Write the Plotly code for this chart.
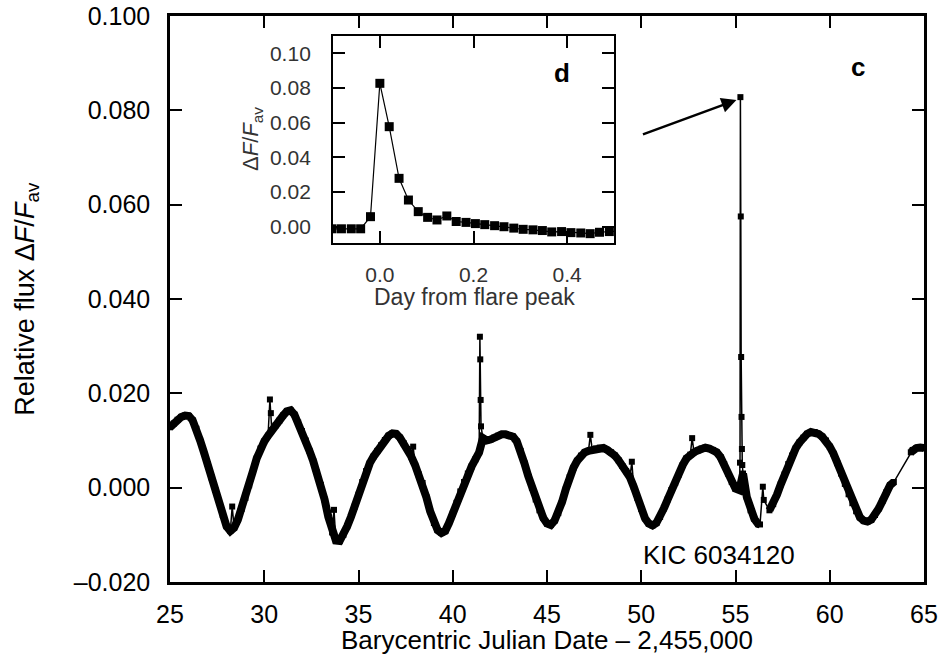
import plotly.graph_objects as go

# ---------------- data ----------------
lc_time = [
    25.0, 25.2, 25.4, 25.6, 25.8, 26.0, 26.2, 26.4, 26.6, 26.8,
    27.0, 27.2, 27.4, 27.6, 27.8, 28.0, 28.2, 28.4, 28.6, 28.8,
    29.0, 29.2, 29.4, 29.6, 29.8, 30.0, 30.2, 30.4, 30.6, 30.8,
    31.0, 31.2, 31.4, 31.6, 31.8, 32.0, 32.2, 32.4, 32.6, 32.8,
    33.0, 33.2, 33.4, 33.6, 33.8, 34.0, 34.2, 34.4, 34.6, 34.8,
    35.0, 35.2, 35.4, 35.6, 35.8, 36.0, 36.2, 36.4, 36.6, 36.8,
    37.0, 37.2, 37.4, 37.6, 37.8, 38.0, 38.2, 38.4, 38.6, 38.8,
    39.0, 39.2, 39.4, 39.6, 39.8, 40.0, 40.2, 40.4, 40.6, 40.8,
    41.0, 41.2, 41.4, 41.6, 41.8, 42.0, 42.2, 42.4, 42.6, 42.8,
    43.0, 43.2, 43.4, 43.6, 43.8, 44.0, 44.2, 44.4, 44.6, 44.8,
    45.0, 45.2, 45.4, 45.6, 45.8, 46.0, 46.2, 46.4, 46.6, 46.8,
    47.0, 47.2, 47.4, 47.6, 47.8, 48.0, 48.2, 48.4, 48.6, 48.8,
    49.0, 49.2, 49.4, 49.6, 49.8, 50.0, 50.2, 50.4, 50.6, 50.8,
    51.0, 51.2, 51.4, 51.6, 51.8, 52.0, 52.2, 52.4, 52.6, 52.8,
    53.0, 53.2, 53.4, 53.6, 53.8, 54.0, 54.2, 54.4, 54.6, 54.8,
    55.0, 55.2, 55.4, 55.6, 55.8, 56.0, 56.2, 56.3,
    56.8, 57.0, 57.2, 57.4, 57.6, 57.8, 58.0, 58.2, 58.4, 58.6,
    58.8, 59.0, 59.2, 59.4, 59.6, 59.8, 60.0, 60.2, 60.4, 60.6,
    60.8, 61.0, 61.2, 61.4, 61.6, 61.8, 62.0, 62.2, 62.4, 62.6,
    62.8, 63.0, 63.2, 63.4,
    64.3, 64.4, 64.6, 64.8, 65.0,
]
lc_flux = [
    0.0128, 0.0136, 0.0144, 0.0150, 0.0153, 0.0152, 0.0143, 0.0125, 0.0100, 0.0075,
    0.0050, 0.0022, -0.0005, -0.0030, -0.0058, -0.0082, -0.0092, -0.0085, -0.0068, -0.0045,
    -0.0022, 0.0005, 0.0035, 0.0062, 0.0083, 0.0098, 0.0110, 0.0122, 0.0132, 0.0142,
    0.0153, 0.0162, 0.0164, 0.0155, 0.0138, 0.0120, 0.0100, 0.0078, 0.0056, 0.0032,
    0.0006, -0.0025, -0.0062, -0.0095, -0.0112, -0.0113, -0.0100, -0.0082, -0.0062, -0.0040,
    -0.0015, 0.0012, 0.0035, 0.0052, 0.0066, 0.0078, 0.0090, 0.0101, 0.0110, 0.0115,
    0.0114, 0.0106, 0.0094, 0.0082, 0.0066, 0.0048, 0.0028, 0.0010, -0.0020, -0.0050,
    -0.0075, -0.0090, -0.0096, -0.0092, -0.0075, -0.0055, -0.0032, -0.0008, 0.0012, 0.0030,
    0.0045, 0.0060, 0.0075, 0.0105, 0.0100, 0.0102, 0.0106, 0.0110, 0.0113, 0.0113,
    0.0111, 0.0108, 0.0098, 0.0078, 0.0052, 0.0025, 0.0000, -0.0025, -0.0048, -0.0064,
    -0.0076, -0.0079, -0.0070, -0.0054, -0.0030, -0.0003, 0.0022, 0.0042, 0.0057, 0.0068,
    0.0075, 0.0078, 0.0080, 0.0083, 0.0085, 0.0084, 0.0080, 0.0075, 0.0068, 0.0058,
    0.0046, 0.0035, 0.0022, 0.0002, -0.0022, -0.0045, -0.0065, -0.0076, -0.0080, -0.0075,
    -0.0062, -0.0044, -0.0025, -0.0005, 0.0010, 0.0028, 0.0048, 0.0062, 0.0070, 0.0075,
    0.0079, 0.0083, 0.0085, 0.0083, 0.0080, 0.0075, 0.0065, 0.0050, 0.0030, 0.0012,
    -0.0002, -0.0005, 0.0030, -0.0020, -0.0048, -0.0066, -0.0077, -0.0078,
    -0.0048, -0.0035, -0.0015, 0.0007, 0.0028, 0.0050, 0.0068, 0.0084, 0.0096, 0.0106,
    0.0114, 0.0118, 0.0118, 0.0114, 0.0108, 0.0100, 0.0087, 0.0072, 0.0052, 0.0030,
    0.0008, -0.0014, -0.0033, -0.0050, -0.0063, -0.0070, -0.0072, -0.0068, -0.0058, -0.0044,
    -0.0028, -0.0010, 0.0005, 0.0012,
    0.0075, 0.0080, 0.0084, 0.0085, 0.0084,
]

# flares and isolated outlying points
spike_time = [28.3, 30.3, 30.35, 33.7, 37.9,
              41.44, 41.46, 41.48, 41.50,
              47.3, 49.5, 52.7,
              55.24, 55.26, 55.28, 55.30, 55.32, 55.34, 55.36,
              56.45, 56.5]
spike_flux = [-0.0040, 0.0187, 0.0158, -0.0047, 0.0087,
              0.0320, 0.0272, 0.0186, 0.0130,
              0.0112, 0.0055, 0.0105,
              0.0053, 0.0828, 0.0575, 0.0277, 0.0150, 0.0082, 0.0048,
              0.0002, -0.0026]

# inset: flare profile
inset_time = [-0.102, -0.082, -0.061, -0.041, -0.020, 0.000, 0.020, 0.041, 0.061, 0.082,
              0.102, 0.122, 0.143, 0.163, 0.184, 0.204, 0.224, 0.245, 0.265, 0.286,
              0.306, 0.327, 0.347, 0.367, 0.388, 0.408, 0.429, 0.449, 0.469, 0.490, 0.510]
inset_flux = [-0.0012, -0.0012, -0.0012, -0.0012, 0.0058, 0.0827, 0.0577, 0.0279, 0.0154, 0.0087,
              0.0054, 0.0039, 0.0062, 0.0030, 0.0025, 0.0018, 0.0012, 0.0006, 0.0000, -0.0008,
              -0.0015, -0.0018, -0.0022, -0.0030, -0.0028, -0.0034, -0.0036, -0.0040, -0.0032, -0.0028, -0.0025]

x_ticks = [25, 30, 35, 40, 45, 50, 55, 60, 65]
y_ticks = [-0.02, 0.0, 0.02, 0.04, 0.06, 0.08, 0.10]
y_ticktext = ["\u20130.020", "0.000", "0.020", "0.040", "0.060", "0.080", "0.100"]
inset_xticks = [0.0, 0.2, 0.4]
inset_xtext = ["0.0", "0.2", "0.4"]
inset_yticks = [0.0, 0.02, 0.04, 0.06, 0.08, 0.10]
inset_ytext = ["0.00", "0.02", "0.04", "0.06", "0.08", "0.10"]

# ---------------- figure ----------------
band_x, band_y = [], []
for i, (t, f) in enumerate(zip(lc_time, lc_flux)):
    if i > 0 and t - lc_time[i - 1] > 0.35:
        band_x.append(None)
        band_y.append(None)
    band_x.append(t)
    band_y.append(f)

pts = sorted(zip(lc_time + spike_time, lc_flux + spike_flux))
all_x = [p[0] for p in pts]
all_y = [p[1] for p in pts]

FONT = "Liberation Sans, Arial, Helvetica, sans-serif"
INSET_COLOR = "#333333"

fig = go.Figure()
fig.add_trace(go.Scatter(x=band_x, y=band_y, mode="lines",
                         line=dict(color="black", width=8), hoverinfo="skip",
                         showlegend=False))
fig.add_trace(go.Scatter(x=all_x, y=all_y, mode="lines+markers",
                         line=dict(color="black", width=1.5),
                         marker=dict(symbol="square", size=6, color="black"),
                         showlegend=False))
fig.add_trace(go.Scatter(x=inset_time, y=inset_flux, mode="lines+markers",
                         xaxis="x2", yaxis="y2",
                         line=dict(color="black", width=1.2),
                         marker=dict(symbol="square", size=9, color="black"),
                         cliponaxis=True, showlegend=False))

axis_common = dict(showline=True, linecolor="black", linewidth=2.5, mirror="allticks",
                   ticks="inside", ticklen=12, tickwidth=2, tickcolor="black",
                   showgrid=False, zeroline=False, automargin=False)

fig.update_layout(
    width=947, height=664,
    margin=dict(l=170, r=23, t=16, b=82, autoexpand=False),
    paper_bgcolor="white", plot_bgcolor="white",
    font=dict(family=FONT, color="black", size=25),
    xaxis=dict(range=[25, 65], tickvals=x_ticks, ticktext=[str(v) for v in x_ticks],
               tickfont=dict(size=25), ticklabelstandoff=8, **axis_common),
    yaxis=dict(range=[-0.02, 0.10], tickvals=y_ticks, ticktext=y_ticktext,
               tickfont=dict(size=25), ticklabelstandoff=12, **axis_common),
    xaxis2=dict(domain=[0.2162, 0.5889], anchor="y2", range=[-0.1, 0.5],
                tickvals=inset_xticks, ticktext=inset_xtext,
                tickfont=dict(size=21, color=INSET_COLOR), ticklabelstandoff=12,
                showline=True, linecolor="black", linewidth=2, mirror="allticks",
                ticks="inside", ticklen=12, tickwidth=2, tickcolor="black",
                showgrid=False, zeroline=False, automargin=False),
    yaxis2=dict(domain=[0.5989, 0.9647], anchor="x2", range=[-0.0094, 0.110],
                tickvals=inset_yticks, ticktext=inset_ytext,
                tickfont=dict(size=21, color=INSET_COLOR), ticklabelstandoff=16,
                showline=True, linecolor="black", linewidth=2, mirror="allticks",
                ticks="inside", ticklen=12, tickwidth=2, tickcolor="black",
                showgrid=False, zeroline=False, automargin=False),
)

annotations = [
    dict(text="Barycentric Julian Date \u2013 2,455,000", xref="paper", yref="paper",
         x=0.5, y=-0.1025, xanchor="center", yanchor="middle", showarrow=False,
         font=dict(size=26)),
    dict(text="Relative flux \u0394<i>F</i>/<i>F</i><sub>av</sub>", xref="paper", yref="paper",
         x=-0.19, y=0.5, xanchor="center", yanchor="middle", textangle=-90,
         showarrow=False, font=dict(size=27)),
    dict(text="\u0394<i>F</i>/<i>F</i><sub>av</sub>", xref="paper", yref="paper",
         x=0.1088, y=0.7827, xanchor="center", yanchor="middle", textangle=-90,
         showarrow=False, font=dict(size=22, color=INSET_COLOR)),
    dict(text="Day from flare peak", xref="paper", yref="paper",
         x=0.4032, y=0.5035, xanchor="center", yanchor="middle", showarrow=False,
         font=dict(size=23, color=INSET_COLOR)),
    dict(text="<b>c</b>", xref="paper", yref="paper", x=0.9125, y=0.9099,
         xanchor="center", yanchor="middle", showarrow=False, font=dict(size=26)),
    dict(text="<b>d</b>", xref="paper", yref="paper", x=0.5199, y=0.8993,
         xanchor="center", yanchor="middle", showarrow=False, font=dict(size=26)),
    dict(text="KIC 6034120", xref="paper", yref="paper", x=0.728, y=0.0477,
         xanchor="center", yanchor="middle", showarrow=False, font=dict(size=26)),
    dict(text="", x=55.05, y=0.0822, xref="x", yref="y", ax=50.01, ay=0.0748,
         axref="x", ayref="y", showarrow=True, arrowhead=2, arrowsize=1.2,
         arrowwidth=2.5, arrowcolor="black"),
]
fig.update_layout(annotations=annotations)

fig.write_html("out.html", config={"displayModeBar": False},
               post_script="document.body.style.margin='0px';document.body.style.overflow='hidden';")
